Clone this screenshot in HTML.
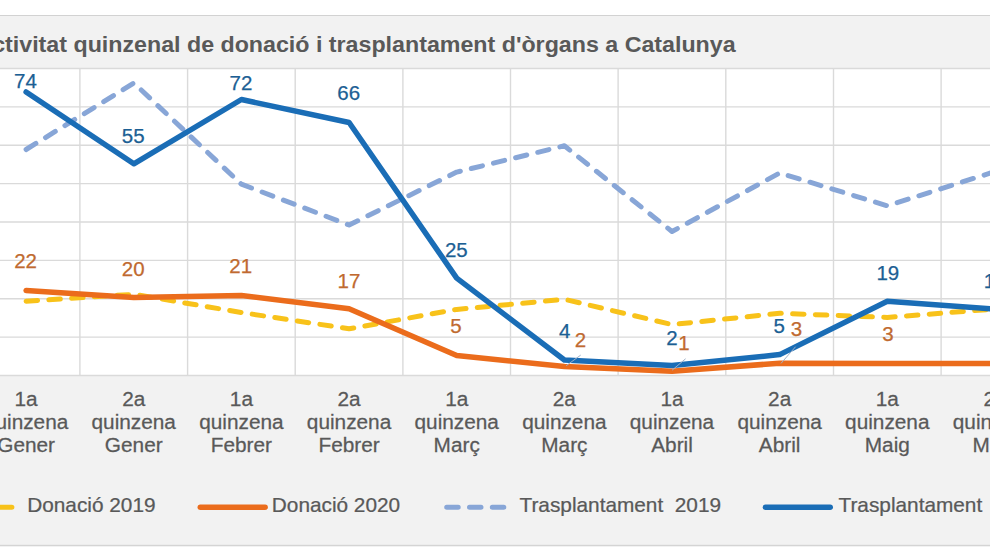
<!DOCTYPE html>
<html><head><meta charset="utf-8"><style>
html,body{margin:0;padding:0;background:#fff;}
body{width:990px;height:556px;overflow:hidden;}
svg{display:block;font-family:"Liberation Sans", sans-serif;}
</style></head><body>
<svg width="990" height="556" viewBox="0 0 990 556">
<rect x="0" y="0" width="990" height="556" fill="#ffffff"/>
<rect x="0" y="15" width="990" height="531" fill="#f2f2f2"/>
<rect x="0" y="15" width="990" height="1" fill="#d2d2d2"/>
<rect x="0" y="544.8" width="990" height="1.5" fill="#d4d4d4"/>
<rect x="0" y="68.5" width="990" height="307.0" fill="#ffffff"/>
<line x1="0" x2="990" y1="68.5" y2="68.5" stroke="#dadada" stroke-width="1.4"/>
<line x1="0" x2="990" y1="106.9" y2="106.9" stroke="#dadada" stroke-width="1.4"/>
<line x1="0" x2="990" y1="145.2" y2="145.2" stroke="#dadada" stroke-width="1.4"/>
<line x1="0" x2="990" y1="183.6" y2="183.6" stroke="#dadada" stroke-width="1.4"/>
<line x1="0" x2="990" y1="222.0" y2="222.0" stroke="#dadada" stroke-width="1.4"/>
<line x1="0" x2="990" y1="260.4" y2="260.4" stroke="#dadada" stroke-width="1.4"/>
<line x1="0" x2="990" y1="298.8" y2="298.8" stroke="#dadada" stroke-width="1.4"/>
<line x1="0" x2="990" y1="337.1" y2="337.1" stroke="#dadada" stroke-width="1.4"/>
<line x1="0" x2="990" y1="375.5" y2="375.5" stroke="#dadada" stroke-width="1.4"/>
<line x1="79.9" x2="79.9" y1="68.5" y2="375.5" stroke="#dadada" stroke-width="1.4"/>
<line x1="187.6" x2="187.6" y1="68.5" y2="375.5" stroke="#dadada" stroke-width="1.4"/>
<line x1="295.2" x2="295.2" y1="68.5" y2="375.5" stroke="#dadada" stroke-width="1.4"/>
<line x1="402.9" x2="402.9" y1="68.5" y2="375.5" stroke="#dadada" stroke-width="1.4"/>
<line x1="510.5" x2="510.5" y1="68.5" y2="375.5" stroke="#dadada" stroke-width="1.4"/>
<line x1="618.1" x2="618.1" y1="68.5" y2="375.5" stroke="#dadada" stroke-width="1.4"/>
<line x1="725.8" x2="725.8" y1="68.5" y2="375.5" stroke="#dadada" stroke-width="1.4"/>
<line x1="833.5" x2="833.5" y1="68.5" y2="375.5" stroke="#dadada" stroke-width="1.4"/>
<line x1="941.1" x2="941.1" y1="68.5" y2="375.5" stroke="#dadada" stroke-width="1.4"/>
<text transform="translate(-24.60,51.80) scale(1.056,1)" font-size="22" fill="#595959" font-weight="bold">Activitat quinzenal de donació i trasplantament d'òrgans a Catalunya</text>
<polyline points="26.1,301.2 133.8,294.3 241.4,312.5 349.1,328.8 456.7,309.4 564.4,299.3 672.0,324.6 779.7,313.3 887.3,317.4 995.0,309.0" fill="none" stroke="#f8c21a" stroke-width="5.0" stroke-linecap="round" stroke-linejoin="round" stroke-dasharray="11.5 11.3"/>
<polyline points="26.1,290.5 133.8,297.5 241.4,295.5 349.1,308.8 456.7,355.6 564.4,366.5 672.0,371.3 779.7,363.2 887.3,363.6 995.0,363.6" fill="none" stroke="#eb6c1c" stroke-width="5.5" stroke-linecap="round" stroke-linejoin="round"/>
<polyline points="26.1,149.5 133.8,83.0 241.4,184.2 349.1,225.0 456.7,172.1 564.4,145.8 672.0,231.5 779.7,173.0 887.3,205.8 995.0,171.6" fill="none" stroke="#88a6d7" stroke-width="5.0" stroke-linecap="round" stroke-linejoin="round" stroke-dasharray="11.5 11.3"/>
<polyline points="26.1,92.0 133.8,163.8 241.4,99.5 349.1,122.5 456.7,278.1 564.4,360.0 672.0,365.6 779.7,354.6 887.3,301.2 995.0,309.1" fill="none" stroke="#1a6db6" stroke-width="5.5" stroke-linecap="round" stroke-linejoin="round"/>
<line x1="580.7" y1="355.1" x2="566.2" y2="365.7" stroke="#9fb0c8" stroke-width="1"/>
<line x1="685.6" y1="358.8" x2="672.1" y2="370.2" stroke="#9fb0c8" stroke-width="1"/>
<line x1="795.6" y1="346.7" x2="781" y2="363.4" stroke="#9fb0c8" stroke-width="1"/>
<text transform="translate(25.50,87.80) scale(1.0,1)" font-size="20.5" fill="#1c5f94" stroke="#1c5f94" stroke-width="0.25" text-anchor="middle">74</text>
<text transform="translate(133.20,142.70) scale(1.0,1)" font-size="20.5" fill="#1c5f94" stroke="#1c5f94" stroke-width="0.25" text-anchor="middle">55</text>
<text transform="translate(240.90,89.60) scale(1.0,1)" font-size="20.5" fill="#1c5f94" stroke="#1c5f94" stroke-width="0.25" text-anchor="middle">72</text>
<text transform="translate(348.70,99.60) scale(1.0,1)" font-size="20.5" fill="#1c5f94" stroke="#1c5f94" stroke-width="0.25" text-anchor="middle">66</text>
<text transform="translate(456.30,256.80) scale(1.0,1)" font-size="20.5" fill="#1c5f94" stroke="#1c5f94" stroke-width="0.25" text-anchor="middle">25</text>
<text transform="translate(564.60,337.70) scale(1.0,1)" font-size="20.5" fill="#1c5f94" stroke="#1c5f94" stroke-width="0.25" text-anchor="middle">4</text>
<text transform="translate(671.90,344.60) scale(1.0,1)" font-size="20.5" fill="#1c5f94" stroke="#1c5f94" stroke-width="0.25" text-anchor="middle">2</text>
<text transform="translate(779.10,332.70) scale(1.0,1)" font-size="20.5" fill="#1c5f94" stroke="#1c5f94" stroke-width="0.25" text-anchor="middle">5</text>
<text transform="translate(887.80,279.70) scale(1.0,1)" font-size="20.5" fill="#1c5f94" stroke="#1c5f94" stroke-width="0.25" text-anchor="middle">19</text>
<text transform="translate(995.20,287.50) scale(1.0,1)" font-size="20.5" fill="#1c5f94" stroke="#1c5f94" stroke-width="0.25" text-anchor="middle">17</text>
<text transform="translate(25.60,268.20) scale(1.0,1)" font-size="20.5" fill="#c06a30" stroke="#c06a30" stroke-width="0.25" text-anchor="middle">22</text>
<text transform="translate(133.20,276.00) scale(1.0,1)" font-size="20.5" fill="#c06a30" stroke="#c06a30" stroke-width="0.25" text-anchor="middle">20</text>
<text transform="translate(240.70,272.70) scale(1.0,1)" font-size="20.5" fill="#c06a30" stroke="#c06a30" stroke-width="0.25" text-anchor="middle">21</text>
<text transform="translate(349.00,288.00) scale(1.0,1)" font-size="20.5" fill="#c06a30" stroke="#c06a30" stroke-width="0.25" text-anchor="middle">17</text>
<text transform="translate(456.00,332.80) scale(1.0,1)" font-size="20.5" fill="#c06a30" stroke="#c06a30" stroke-width="0.25" text-anchor="middle">5</text>
<text transform="translate(580.50,347.00) scale(1.0,1)" font-size="20.5" fill="#c06a30" stroke="#c06a30" stroke-width="0.25" text-anchor="middle">2</text>
<text transform="translate(684.00,350.20) scale(1.0,1)" font-size="20.5" fill="#c06a30" stroke="#c06a30" stroke-width="0.25" text-anchor="middle">1</text>
<text transform="translate(796.40,336.40) scale(1.0,1)" font-size="20.5" fill="#c06a30" stroke="#c06a30" stroke-width="0.25" text-anchor="middle">3</text>
<text transform="translate(887.90,340.80) scale(1.0,1)" font-size="20.5" fill="#c06a30" stroke="#c06a30" stroke-width="0.25" text-anchor="middle">3</text>
<text transform="translate(26.10,405.90) scale(1.04,1)" font-size="20" fill="#595959" stroke="#595959" stroke-width="0.25" text-anchor="middle">1a</text>
<text transform="translate(26.10,428.70) scale(1.04,1)" font-size="20" fill="#595959" stroke="#595959" stroke-width="0.25" text-anchor="middle">quinzena</text>
<text transform="translate(26.10,452.20) scale(1.04,1)" font-size="20" fill="#595959" stroke="#595959" stroke-width="0.25" text-anchor="middle">Gener</text>
<text transform="translate(133.75,405.90) scale(1.04,1)" font-size="20" fill="#595959" stroke="#595959" stroke-width="0.25" text-anchor="middle">2a</text>
<text transform="translate(133.75,428.70) scale(1.04,1)" font-size="20" fill="#595959" stroke="#595959" stroke-width="0.25" text-anchor="middle">quinzena</text>
<text transform="translate(133.75,452.20) scale(1.04,1)" font-size="20" fill="#595959" stroke="#595959" stroke-width="0.25" text-anchor="middle">Gener</text>
<text transform="translate(241.40,405.90) scale(1.04,1)" font-size="20" fill="#595959" stroke="#595959" stroke-width="0.25" text-anchor="middle">1a</text>
<text transform="translate(241.40,428.70) scale(1.04,1)" font-size="20" fill="#595959" stroke="#595959" stroke-width="0.25" text-anchor="middle">quinzena</text>
<text transform="translate(241.40,452.20) scale(1.04,1)" font-size="20" fill="#595959" stroke="#595959" stroke-width="0.25" text-anchor="middle">Febrer</text>
<text transform="translate(349.05,405.90) scale(1.04,1)" font-size="20" fill="#595959" stroke="#595959" stroke-width="0.25" text-anchor="middle">2a</text>
<text transform="translate(349.05,428.70) scale(1.04,1)" font-size="20" fill="#595959" stroke="#595959" stroke-width="0.25" text-anchor="middle">quinzena</text>
<text transform="translate(349.05,452.20) scale(1.04,1)" font-size="20" fill="#595959" stroke="#595959" stroke-width="0.25" text-anchor="middle">Febrer</text>
<text transform="translate(456.70,405.90) scale(1.04,1)" font-size="20" fill="#595959" stroke="#595959" stroke-width="0.25" text-anchor="middle">1a</text>
<text transform="translate(456.70,428.70) scale(1.04,1)" font-size="20" fill="#595959" stroke="#595959" stroke-width="0.25" text-anchor="middle">quinzena</text>
<text transform="translate(456.70,452.20) scale(1.04,1)" font-size="20" fill="#595959" stroke="#595959" stroke-width="0.25" text-anchor="middle">Març</text>
<text transform="translate(564.35,405.90) scale(1.04,1)" font-size="20" fill="#595959" stroke="#595959" stroke-width="0.25" text-anchor="middle">2a</text>
<text transform="translate(564.35,428.70) scale(1.04,1)" font-size="20" fill="#595959" stroke="#595959" stroke-width="0.25" text-anchor="middle">quinzena</text>
<text transform="translate(564.35,452.20) scale(1.04,1)" font-size="20" fill="#595959" stroke="#595959" stroke-width="0.25" text-anchor="middle">Març</text>
<text transform="translate(672.00,405.90) scale(1.04,1)" font-size="20" fill="#595959" stroke="#595959" stroke-width="0.25" text-anchor="middle">1a</text>
<text transform="translate(672.00,428.70) scale(1.04,1)" font-size="20" fill="#595959" stroke="#595959" stroke-width="0.25" text-anchor="middle">quinzena</text>
<text transform="translate(672.00,452.20) scale(1.04,1)" font-size="20" fill="#595959" stroke="#595959" stroke-width="0.25" text-anchor="middle">Abril</text>
<text transform="translate(779.65,405.90) scale(1.04,1)" font-size="20" fill="#595959" stroke="#595959" stroke-width="0.25" text-anchor="middle">2a</text>
<text transform="translate(779.65,428.70) scale(1.04,1)" font-size="20" fill="#595959" stroke="#595959" stroke-width="0.25" text-anchor="middle">quinzena</text>
<text transform="translate(779.65,452.20) scale(1.04,1)" font-size="20" fill="#595959" stroke="#595959" stroke-width="0.25" text-anchor="middle">Abril</text>
<text transform="translate(887.30,405.90) scale(1.04,1)" font-size="20" fill="#595959" stroke="#595959" stroke-width="0.25" text-anchor="middle">1a</text>
<text transform="translate(887.30,428.70) scale(1.04,1)" font-size="20" fill="#595959" stroke="#595959" stroke-width="0.25" text-anchor="middle">quinzena</text>
<text transform="translate(887.30,452.20) scale(1.04,1)" font-size="20" fill="#595959" stroke="#595959" stroke-width="0.25" text-anchor="middle">Maig</text>
<text transform="translate(994.95,405.90) scale(1.04,1)" font-size="20" fill="#595959" stroke="#595959" stroke-width="0.25" text-anchor="middle">2a</text>
<text transform="translate(994.95,428.70) scale(1.04,1)" font-size="20" fill="#595959" stroke="#595959" stroke-width="0.25" text-anchor="middle">quinzena</text>
<text transform="translate(994.95,452.20) scale(1.04,1)" font-size="20" fill="#595959" stroke="#595959" stroke-width="0.25" text-anchor="middle">Maig</text>
<line x1="-45.2" x2="20.1" y1="507.2" y2="507.2" stroke="#f8c21a" stroke-width="5.0" stroke-linecap="round" stroke-dasharray="11.5 11.3"/>
<text transform="translate(27.20,511.80) scale(1.015,1)" font-size="20.5" fill="#595959" stroke="#595959" stroke-width="0.25">Donació 2019</text>
<line x1="200.3" x2="265.1" y1="507.2" y2="507.2" stroke="#eb6c1c" stroke-width="5.5" stroke-linecap="round"/>
<text transform="translate(271.80,511.80) scale(1.015,1)" font-size="20.5" fill="#595959" stroke="#595959" stroke-width="0.25">Donació 2020</text>
<line x1="446.7" x2="512" y1="507.2" y2="507.2" stroke="#88a6d7" stroke-width="5.0" stroke-linecap="round" stroke-dasharray="11.5 11.3"/>
<text transform="translate(519.50,511.80) scale(1.015,1)" font-size="20.5" fill="#595959" stroke="#595959" stroke-width="0.25">Trasplantament&#160; 2019</text>
<line x1="765.5" x2="830.2" y1="507.2" y2="507.2" stroke="#1a6db6" stroke-width="5.5" stroke-linecap="round"/>
<text transform="translate(838.50,511.80) scale(1.015,1)" font-size="20.5" fill="#595959" stroke="#595959" stroke-width="0.25">Trasplantament&#160; 2020</text>
</svg>
</body></html>
